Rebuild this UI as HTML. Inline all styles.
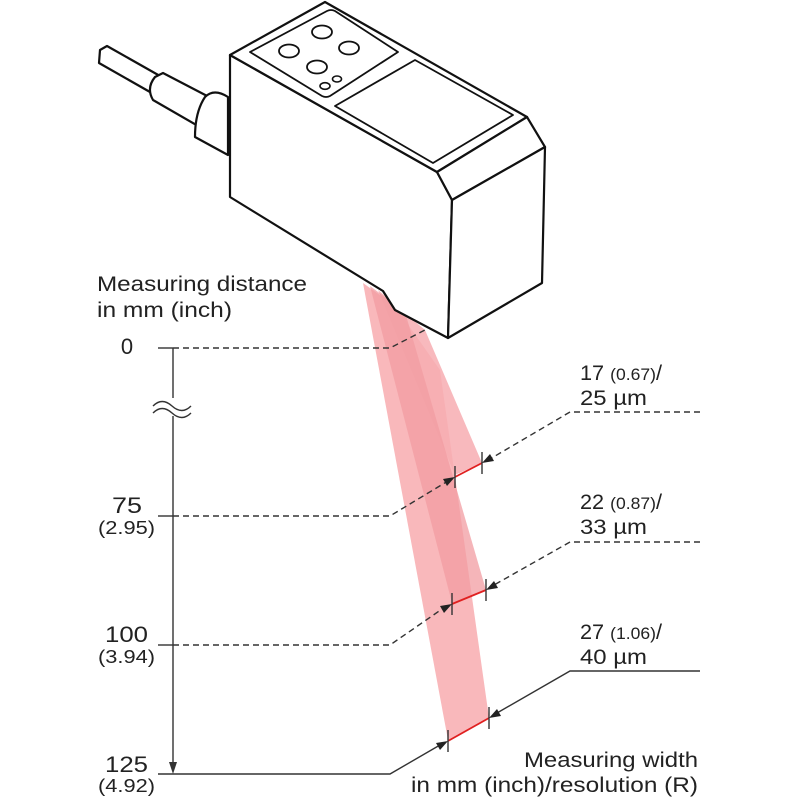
<!DOCTYPE html>
<html><head><meta charset="utf-8"><style>
html,body{margin:0;padding:0;background:#fff}
svg{display:block}
text{font-family:"Liberation Sans",sans-serif;fill:#222}
</style></head><body>
<svg width="800" height="800" viewBox="0 0 800 800" xmlns="http://www.w3.org/2000/svg">
<!-- beams -->
<g stroke="none">
<polygon points="363,283 395,306 440,370 489,718 448,740" fill="#f9b8bb"/>
<polygon points="378,290 425,330 482,463 455,475" fill="#f7adb1" opacity="0.85"/>
<polygon points="370,286 405,312 486,590 452,603" fill="#f29ca2" opacity="0.75"/>
</g>
<!-- device -->
<g fill="#fff" stroke="#111" stroke-width="2.2" stroke-linejoin="round">
<polygon points="100,50 107,46 160,76 157,96 99,63"/>
<path d="M155,77 L163,73 L211,98 L205,130 L153,100 Q146,88 155,77 Z"/>
<path d="M205,97 Q214,88 228,97 L228,155 L195,137 Q195,112 205,97 Z"/>
<polygon points="230,55 437,172 452,200 448,338 395,310 383,291 230,197"/>
<polygon points="230,55 325,2 527,117 437,172"/>
<polygon points="527,117 545,147 452,200 437,172"/>
<polygon points="452,200 545,147 542,283 448,338"/>
<path d="M250,52 L327,11 Q331,9 335,11 L398,52 L330,96 Q326,98 322,96 Z" stroke-width="1.8"/>
<polygon points="335,106 415,60 513,115 433,163" stroke-width="1.8"/>
<ellipse cx="322" cy="32" rx="10" ry="6.5" stroke-width="1.8"/>
<ellipse cx="289" cy="51" rx="10" ry="6.5" stroke-width="1.8"/>
<ellipse cx="349" cy="48" rx="10" ry="6.5" stroke-width="1.8"/>
<ellipse cx="317" cy="67" rx="10" ry="6.5" stroke-width="1.8"/>
<ellipse cx="337" cy="79" rx="4.5" ry="3" stroke-width="1.6"/>
<ellipse cx="325" cy="86" rx="5" ry="3.3" stroke-width="1.6"/>
</g>
<!-- axis -->
<g stroke="#333" stroke-width="1.4" fill="none">
<line x1="173" y1="348" x2="173" y2="764"/>
<line x1="158" y1="348" x2="173" y2="348"/>
<line x1="158" y1="516" x2="173" y2="516"/>
<line x1="158" y1="645" x2="173" y2="645"/>
</g>
<polygon points="169,762 177,762 173,774" fill="#333"/>
<rect x="160" y="398" width="26" height="18" fill="#fff"/>
<path d="M153,406 q9,-9 19,0 t19,0 M153,413 q9,-9 19,0 t19,0" stroke="#333" stroke-width="1.4" fill="none"/>
<g stroke="#333" stroke-width="1.4" fill="none" stroke-dasharray="6,4">
<polyline points="173,348 390,348 425,330"/>
<polyline points="173,516 390,516 448,481"/>
<polyline points="173,645 390,645 445,607"/>
<polyline points="700,412 570,412 490,459"/>
<polyline points="700,542 570,542 494,585"/>
</g>
<g stroke="#333" stroke-width="1.4" fill="none">
<polyline points="158,774 390,774 440,745"/>
<polyline points="700,671 570,671 497,713"/>
</g>
<g stroke="#e02020" stroke-width="1.8">
<line x1="455" y1="477" x2="482" y2="463"/>
<line x1="452" y1="604" x2="486" y2="590"/>
<line x1="448" y1="741" x2="489" y2="718"/>
</g>
<g stroke="#333" stroke-width="1.4">
<line x1="455" y1="466" x2="455" y2="488"/>
<line x1="482" y1="452" x2="482" y2="474"/>
<line x1="452" y1="593" x2="452" y2="615"/>
<line x1="486" y1="579" x2="486" y2="601"/>
<line x1="448" y1="730" x2="448" y2="752"/>
<line x1="489" y1="707" x2="489" y2="729"/>
</g>
<g fill="#222">
<polygon points="455,477 443,479 447,486"/>
<polygon points="482,463 494,461 490,454"/>
<polygon points="452,604 440,606 444,613"/>
<polygon points="486,590 498,588 494,581"/>
<polygon points="448,741 436,743 440,750"/>
<polygon points="489,718 501,716 497,709"/>
</g>
<!-- labels -->
<text x="97" y="291" font-size="21" textLength="210" lengthAdjust="spacingAndGlyphs">Measuring distance</text>
<text x="97" y="317" font-size="21" textLength="135" lengthAdjust="spacingAndGlyphs">in mm (inch)</text>
<text x="127" y="354" font-size="22" text-anchor="middle">0</text>
<text x="112" y="513" font-size="22" textLength="30" lengthAdjust="spacingAndGlyphs">75</text>
<text x="98" y="534" font-size="18" textLength="57" lengthAdjust="spacingAndGlyphs">(2.95)</text>
<text x="105" y="642" font-size="22" textLength="43" lengthAdjust="spacingAndGlyphs">100</text>
<text x="98" y="663" font-size="18" textLength="57" lengthAdjust="spacingAndGlyphs">(3.94)</text>
<text x="105" y="772" font-size="22" textLength="43" lengthAdjust="spacingAndGlyphs">125</text>
<text x="98" y="792" font-size="18" textLength="57" lengthAdjust="spacingAndGlyphs">(4.92)</text>
<text x="580" y="380" font-size="21" textLength="82" lengthAdjust="spacingAndGlyphs">17 <tspan font-size="17">(0.67)</tspan>/</text>
<text x="580" y="405" font-size="21" textLength="67" lengthAdjust="spacingAndGlyphs">25 µm</text>
<text x="580" y="509" font-size="21" textLength="82" lengthAdjust="spacingAndGlyphs">22 <tspan font-size="17">(0.87)</tspan>/</text>
<text x="580" y="534" font-size="21" textLength="67" lengthAdjust="spacingAndGlyphs">33 µm</text>
<text x="580" y="639" font-size="21" textLength="82" lengthAdjust="spacingAndGlyphs">27 <tspan font-size="17">(1.06)</tspan>/</text>
<text x="580" y="664" font-size="21" textLength="67" lengthAdjust="spacingAndGlyphs">40 µm</text>
<text x="524" y="767" font-size="21" textLength="174" lengthAdjust="spacingAndGlyphs">Measuring width</text>
<text x="411" y="792" font-size="21" textLength="287" lengthAdjust="spacingAndGlyphs">in mm (inch)/resolution (R)</text>
</svg>
</body></html>
